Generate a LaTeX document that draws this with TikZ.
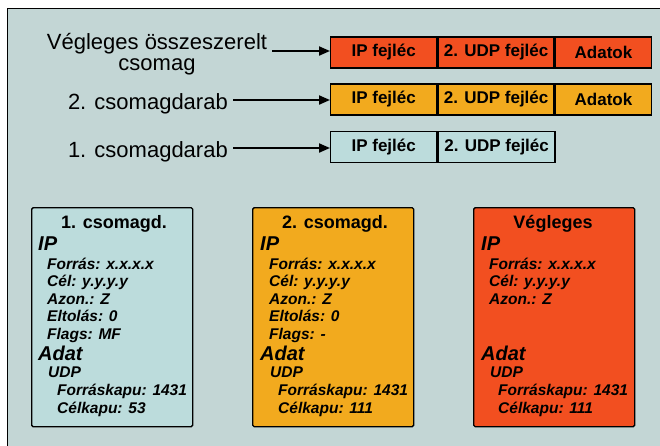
\documentclass[tikz,border=0pt]{standalone}
\usepackage{fontspec}
\setmainfont{Liberation Sans}
\usetikzlibrary{arrows.meta}
\definecolor{bg}{HTML}{C3D6D5}
\definecolor{cyanbox}{HTML}{BCDCDC}
\definecolor{orangebox}{HTML}{F2AA1E}
\definecolor{redbox}{HTML}{F24F20}
\tikzset{
  cell/.style={draw=black, line width=1.4pt, minimum height=31pt, inner sep=0pt, anchor=west, font=\fontsize{17}{19}\selectfont\bfseries},
  lab/.style={inner sep=0pt, font=\fontsize{22}{21}\selectfont},
  arr/.style={line width=2pt, -{Triangle[length=11pt,width=9pt]}},
  infobox/.style={draw=black, line width=1.4pt, rounded corners=1.5pt, minimum width=161pt, minimum height=219pt, anchor=north west, inner sep=0pt},
  ttl/.style={inner sep=0pt, anchor=base, font=\fontsize{18}{20}\selectfont\bfseries},
  big/.style={inner sep=0pt, anchor=base west, font=\fontsize{20}{22}\selectfont\bfseries\itshape},
  sml/.style={inner sep=0pt, anchor=base west, font=\fontsize{15.5}{17}\selectfont\bfseries\itshape}
}
\begin{document}
\begin{tikzpicture}[x=1pt,y=-1pt]
\useasboundingbox (0,0) rectangle (660,445);
\fill[white] (0,0) rectangle (660,445);
\draw[fill=bg, line width=1pt] (7,8) -- (7,448) -- (664,448) -- (664,8) -- cycle;

% bars
\node[cell, fill=redbox, minimum width=106pt] (r1a) at (330,52.5) {IP fejléc};
\node[cell, fill=redbox, minimum width=116pt] (r1b) at (r1a.east) {2. UDP fejléc};
\node[cell, fill=redbox, minimum width=96pt] (r1c) at (r1b.east) {Adatok};
\node[cell, fill=orangebox, minimum width=106pt] (r2a) at (330,99.5) {IP fejléc};
\node[cell, fill=orangebox, minimum width=116pt] (r2b) at (r2a.east) {2. UDP fejléc};
\node[cell, fill=orangebox, minimum width=96pt] (r2c) at (r2b.east) {Adatok};
\node[cell, fill=cyanbox, minimum width=106pt] (r3a) at (330,147) {IP fejléc};
\node[cell, fill=cyanbox, minimum width=117pt] (r3b) at (r3a.east) {2. UDP fejléc};

% labels and arrows
\node[lab, align=center, anchor=base] (l1) at (157,70) {Végleges összeszerelt\\csomag};
\coordinate (l1a) at (272,51);
\draw[arr] (l1a) -- (r1a.west |- l1a);
\node[lab, anchor=base east] (l2) at (228,109) {2. csomagdarab};
\coordinate (l2a) at (233,100);
\draw[arr] (l2a) -- (r2a.west |- l2a);
\node[lab, anchor=base east] (l3) at (228,157) {1. csomagdarab};
\coordinate (l3a) at (233,148);
\draw[arr] (l3a) -- (r3a.west |- l3a);

% info boxes
\node[infobox, fill=cyanbox] (b1) at (31,207) {};
\node[infobox, fill=orangebox] (b2) at (252,207) {};
\node[infobox, fill=redbox] (b3) at (473,207) {};

\node[ttl] (b1t) at (114,228) {1. csomagd.};
\node[big] (b1ip) at (38,250) {IP};
\node[sml] (b1f) at (47,269) {Forrás: x.x.x.x};
\node[sml] (b1c) at (47,286.5) {Cél: y.y.y.y};
\node[sml] (b1z) at (47,304) {Azon.: Z};
\node[sml] (b1e) at (47,321.5) {Eltolás: 0};
\node[sml] (b1g) at (47,339) {Flags: MF};
\node[big] (b1d) at (38,360) {Adat};
\node[sml] (b1u) at (48,377) {UDP};
\node[sml] (b1k) at (57,395) {Forráskapu: 1431};
\node[sml] (b1l) at (57,413) {Célkapu: 53};

\node[ttl] (b2t) at (335,228) {2. csomagd.};
\node[big] (b2ip) at (260,250) {IP};
\node[sml] (b2f) at (269,269) {Forrás: x.x.x.x};
\node[sml] (b2c) at (269,286.5) {Cél: y.y.y.y};
\node[sml] (b2z) at (269,304) {Azon.: Z};
\node[sml] (b2e) at (269,321.5) {Eltolás: 0};
\node[sml] (b2g) at (269,339) {Flags: -};
\node[big] (b2d) at (260,360) {Adat};
\node[sml] (b2u) at (270,377) {UDP};
\node[sml] (b2k) at (278,395) {Forráskapu: 1431};
\node[sml] (b2l) at (278,413) {Célkapu: 111};

\node[ttl] (b3t) at (553,228) {Végleges};
\node[big] (b3ip) at (481,250) {IP};
\node[sml] (b3f) at (489,269) {Forrás: x.x.x.x};
\node[sml] (b3c) at (489,286.5) {Cél: y.y.y.y};
\node[sml] (b3z) at (489,304) {Azon.: Z};
\node[big] (b3d) at (481,360) {Adat};
\node[sml] (b3u) at (490,377) {UDP};
\node[sml] (b3k) at (498,395) {Forráskapu: 1431};
\node[sml] (b3l) at (498,413) {Célkapu: 111};
\end{tikzpicture}
\end{document}
